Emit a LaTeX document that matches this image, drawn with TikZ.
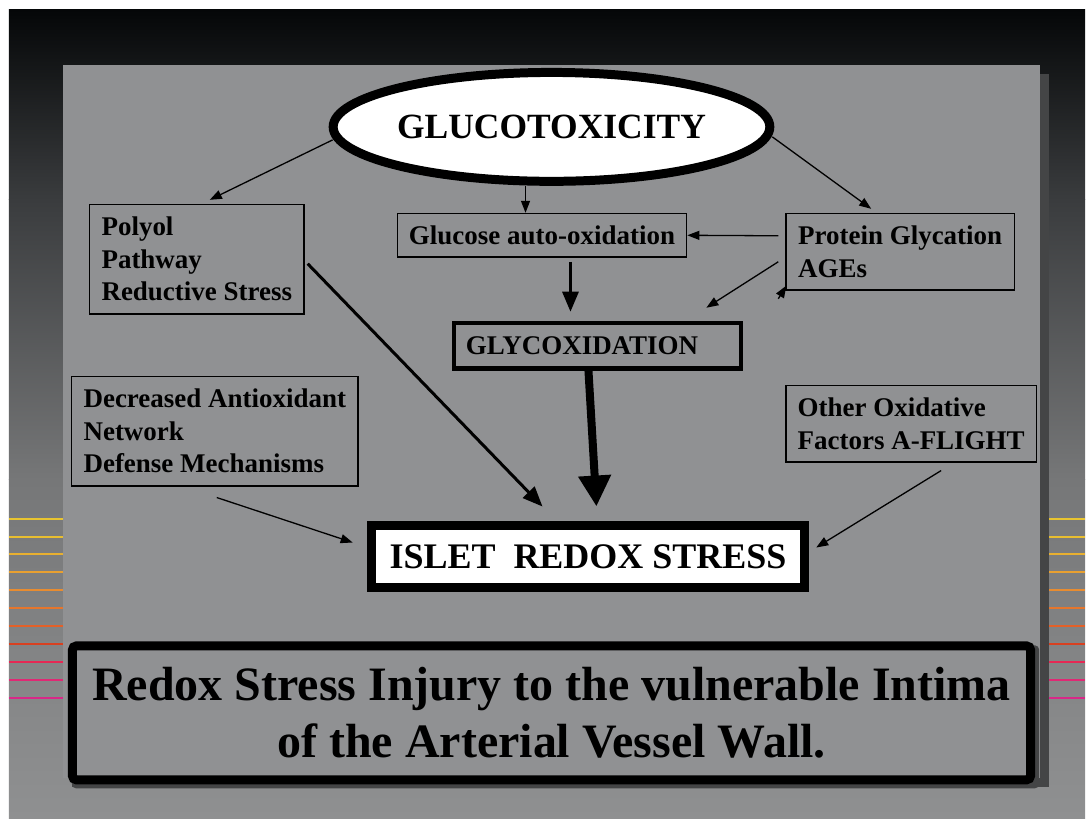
\documentclass[tikz,border=0pt]{standalone}
\usepackage{fontspec}
\setmainfont{Liberation Serif}
\usetikzlibrary{shapes.geometric,arrows.meta,calc,positioning}

\definecolor{panelgrey}{RGB}{144,145,147}
\definecolor{shadowgrey}{RGB}{68,69,70}
\definecolor{bgtop}{RGB}{5,7,8}
\definecolor{bgmid}{RGB}{58,60,62}
\definecolor{bglow}{RGB}{118,119,120}
\definecolor{bgend}{RGB}{143,144,145}
\definecolor{lnA}{RGB}{232,196,48}
\definecolor{lnB}{RGB}{232,190,48}
\definecolor{lnC}{RGB}{232,176,48}
\definecolor{lnD}{RGB}{232,160,48}
\definecolor{lnE}{RGB}{232,140,48}
\definecolor{lnF}{RGB}{230,118,44}
\definecolor{lnG}{RGB}{228,96,40}
\definecolor{lnH}{RGB}{216,64,32}
\definecolor{lnI}{RGB}{230,40,84}
\definecolor{lnJ}{RGB}{224,40,116}
\definecolor{lnK}{RGB}{216,40,136}

\tikzset{
    x=1pt, y=-1pt,
    box/.style = {rectangle, draw, line width=1.5pt, inner sep=0pt, align=left,
                  font=\fontsize{27}{32.5}\selectfont\bfseries},
    midbox/.style = {rectangle, draw, line width=4.5pt, inner sep=0pt, align=left,
                  font=\fontsize{27}{32.5}\selectfont\bfseries},
    heavybox/.style = {rectangle, draw, line width=9pt, inner sep=0pt, align=center},
    thin/.style = {-{Triangle[length=12pt,width=9pt]}, line width=1.3pt},
    thick/.style = {-{Triangle[length=20pt,width=16pt]}, line width=3pt},
    heavy/.style = {-{Triangle[length=31pt,width=31pt]}, line width=8pt}
}

\begin{document}
\begin{tikzpicture}
    % background
    \fill[white] (0,0) rectangle (1086,819);
    \shade[top color=bgtop, bottom color=bgmid] (9,10) rectangle (1086,200);
    \shade[top color=bgmid, bottom color=bglow] (9,200) rectangle (1086,480);
    \shade[top color=bglow, bottom color=bgend] (9,480) rectangle (1086,819);
    \foreach \yy/\cc in {519/lnA,537/lnB,555/lnC,573/lnD,591/lnE,609/lnF,
                         627/lnG,645/lnH,663/lnI,681/lnJ,699/lnK}
        \draw[\cc, line width=2pt] (9,\yy) -- (1086,\yy);
    \fill[shadowgrey] (72,74) rectangle (1050,788);
    \fill[panelgrey] (63,65) rectangle (1041,779);

    % nodes
    \node[ellipse, draw, fill=white, line width=9pt, inner sep=0pt,
          minimum width=415pt, minimum height=109pt,
          font=\fontsize{35.5}{40}\selectfont\bfseries] (gluco) at (552,127) {GLUCOTOXICITY};
    \node[box, minimum width=214.5pt, minimum height=109.5pt] (polyol) at (197,259.5)
        {Polyol\\Pathway\\Reductive Stress};
    \node[box, align=center, minimum width=289.5pt, minimum height=43.5pt] (autox) at (542.5,235.5)
        {Glucose auto-oxidation};
    \node[box, minimum width=228.5pt, minimum height=76.5pt] (protein) at (901,252)
        {Protein Glycation\\AGEs};
    \node[midbox, minimum width=287.5pt, minimum height=45.5pt, text width=263.5pt] (glycox) at (598,346)
        {GLYCOXIDATION};
    \node[box, minimum width=286.5pt, minimum height=109.5pt] (decreased) at (215,431.5)
        {Decreased Antioxidant\\Network\\Defense Mechanisms};
    \node[box, minimum width=250.5pt, minimum height=76.5pt] (other) at (912,424)
        {Other Oxidative\\Factors A-FLIGHT};
    \node[heavybox, fill=white, minimum width=434pt, minimum height=63pt,
          font=\fontsize{36}{40}\selectfont\bfseries] (islet) at (588.5,557)
        {ISLET\ \ REDOX STRESS};
    \fill[shadowgrey, rounded corners=4pt] (72,646) rectangle (1040,789);
    \node[heavybox, fill=panelgrey, rounded corners=4pt, minimum width=959pt, minimum height=134pt,
          font=\fontsize{48}{57}\selectfont\bfseries] (injury) at (552,713.5)
        {Redox Stress Injury to the vulnerable Intima\\of the Arterial Vessel Wall.};

    % arrows
    \draw[thin] ($(gluco.west)+(4,13)$) -- ($(polyol.north)+(13,-4)$);
    \draw[thin] ($(gluco.south)+(-26,0)$) -- ($(autox.north)+(-16.5,0)$);
    \draw[thin] ($(gluco.east)+(-2,10)$) -- ($(protein.north)+(-29,-4)$);
    \draw[thin] ($(protein.west)+(-7,-16)$) -- (autox.east);
    \draw[thin] ($(protein.west)+(-7,10)$) -- ($(glycox.north east)+(-37,-13)$);
    \draw[thin] ($(protein.south west)+(-7,8)$) -- ($(protein.south west)+(1,-5)$);
    \draw[thick] ($(autox.south)+(28.5,4)$) -- ($(glycox.north)+(-27,-9)$);
    \draw[thick] ($(polyol.east)+(3,4.5)$) -- ($(islet.north)+(-45.5,-14)$);
    \draw[heavy] ($(glycox.south)+(-9,0)$) -- ($(islet.north)+(8.5,-14)$);
    \draw[thin] ($(decreased.south)+(2,11)$) -- ($(islet.west)+(-14,-14)$);
    \draw[thin] ($(other.south)+(30,8)$) -- ($(islet.east)+(7,-9)$);
\end{tikzpicture}
\end{document}
